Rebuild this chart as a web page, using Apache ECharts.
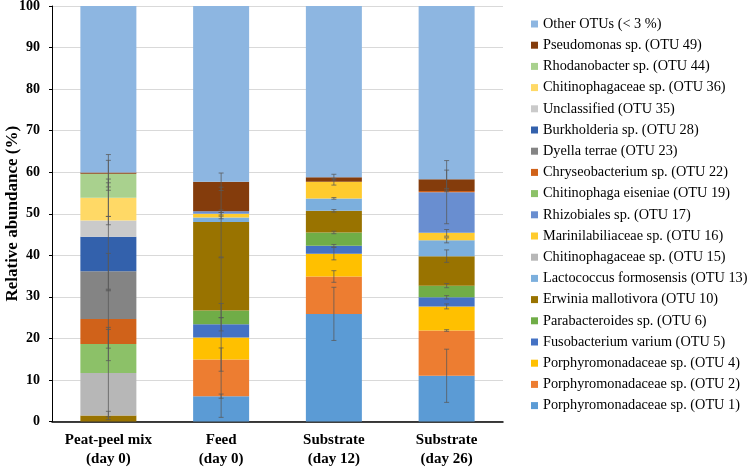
<!DOCTYPE html>
<html>
<head>
<meta charset="utf-8">
<script src="https://cdn.jsdelivr.net/npm/echarts@6/dist/echarts.min.js"></script>
<style>html,body{margin:0;padding:0;background:#fff;}#chart{width:750px;height:468px;}</style>
</head>
<body>
<div id="chart"></div>
<script>
// Categories
const categories = ['Peat-peel mix\n(day 0)', 'Feed\n(day 0)', 'Substrate\n(day 12)', 'Substrate\n(day 26)'];
const yTicks = [0, 10, 20, 30, 40, 50, 60, 70, 80, 90, 100];

// Series names (stack order bottom -> top)
const seriesNames = [
  'Porphyromonadaceae sp. (OTU 1)',
  'Porphyromonadaceae sp. (OTU 2)',
  'Porphyromonadaceae sp. (OTU 4)',
  'Fusobacterium varium (OTU 5)',
  'Parabacteroides sp. (OTU 6)',
  'Erwinia mallotivora (OTU 10)',
  'Lactococcus formosensis (OTU 13)',
  'Chitinophagaceae sp. (OTU 15)',
  'Marinilabiliaceae sp. (OTU 16)',
  'Rhizobiales sp. (OTU 17)',
  'Chitinophaga eiseniae (OTU 19)',
  'Chryseobacterium sp. (OTU 22)',
  'Dyella terrae (OTU 23)',
  'Burkholderia sp. (OTU 28)',
  'Unclassified (OTU 35)',
  'Chitinophagaceae sp. (OTU 36)',
  'Rhodanobacter sp. (OTU 44)',
  'Pseudomonas sp. (OTU 49)',
  'Other OTUs (< 3 %)'
];

// Mean relative abundance (%) per category
const otu1  = [0,     6.1, 25.9, 11.0];
const otu2  = [0,     8.8,  9.0, 10.9];
const otu4  = [0,     5.3,  5.5,  5.8];
const otu5  = [0,     3.2,  1.9,  2.2];
const otu6  = [0,     3.3,  3.2,  2.8];
const otu10 = [1.45, 21.3,  5.2,  7.1];
const otu13 = [0,     1.1,  3.0,  3.8];
const otu15 = [10.2,  0,    0,    0];
const otu16 = [0,     0.9,  4.0,  1.8];
const otu17 = [0,     0.6,  0,    9.8];
const otu19 = [7.0,   0,    0,    0];
const otu22 = [6.0,   0,    0,    0.3];
const otu23 = [11.5,  0,    0,    0];
const otu28 = [8.3,   0,    0,    0];
const otu35 = [3.9,   0,    0,    0];
const otu36 = [5.5,   0,    0,    0];
const otu44 = [5.8,   0,    0,    0];
const otu49 = [0.3,   7.1,  1.1,  2.8];
const other = [40.05, 42.3, 41.2, 41.7];

// Standard deviations (error bars)
const sd1  = [0,    0.5, 6.4, 6.4];
const sd2  = [0,    2.8, 1.4, 0.2];
const sd4  = [0,   19.2, 1.5, 0.6];
const sd5  = [0,    1.6, 0.3, 0.4];
const sd6  = [0,    1.7, 0.3, 0.5];
const sd10 = [1.0,  8.4, 0.3, 1.5];
const sd13 = [0,    0.3, 0.2, 0.6];
const sd15 = [10.5, 0,   0,   0];
const sd16 = [0,    0.3, 0.8, 0.8];
const sd17 = [0,    0.3, 0,   7.6];
const sd19 = [4.0,  0,   0,   0];
const sd22 = [7.0,  0,   0,   0.2];
const sd23 = [4.3,  0,   0,   0];
const sd28 = [13.0, 0,   0,   0];
const sd35 = [1.0,  0,   0,   0];
const sd36 = [4.5,  0,   0,   0];
const sd44 = [3.2,  0,   0,   0];
const sd49 = [4.3,  2.1, 0.7, 2.2];
const sdOther = [0, 0, 0, 0];

const colors = [
  '#5B9BD5', '#ED7D31', '#FFC000', '#4472C4', '#70AD47', '#997300',
  '#7CAFDD', '#B7B7B7', '#FFCB2E', '#698ED0', '#8CC168', '#D0621A',
  '#848484', '#3361AC', '#CACACA', '#FFD966', '#A9D18E', '#843C0C', '#8DB6E1'
];

const values = [otu1, otu2, otu4, otu5, otu6, otu10, otu13, otu15, otu16, otu17, otu19, otu22, otu23, otu28, otu35, otu36, otu44, otu49, other];
const sds = [sd1, sd2, sd4, sd5, sd6, sd10, sd13, sd15, sd16, sd17, sd19, sd22, sd23, sd28, sd35, sd36, sd44, sd49, sdOther];

// Build error bar data at cumulative top of each segment
const errData = [];
for (let c = 0; c < categories.length; c++) {
  let cum = 0;
  for (let s = 0; s < values.length; s++) {
    cum += values[s][c];
    if (values[s][c] > 0 && sds[s][c] > 0) errData.push([c, cum, sds[s][c]]);
  }
}

const FONT = 'Liberation Serif';

const series = seriesNames.map((name, i) => ({
  name: name,
  type: 'bar',
  stack: 'total',
  barWidth: 56,
  itemStyle: { color: colors[i] },
  emphasis: { disabled: true },
  data: values[i]
}));

series.push({
  type: 'custom',
  name: 'err',
  z: 10,
  silent: true,
  renderItem: function (params, api) {
    const c = api.value(0), top = api.value(1), sd = api.value(2);
    const hi = api.coord([c, top + sd]);
    const lo = api.coord([c, Math.max(0, top - sd)]);
    const w = 2.5;
    const style = { stroke: '#5a5a5a', lineWidth: 0.9, opacity: 0.85 };
    return {
      type: 'group',
      children: [
        { type: 'line', shape: { x1: hi[0], y1: hi[1], x2: lo[0], y2: lo[1] }, style: style },
        { type: 'line', shape: { x1: hi[0] - w, y1: hi[1], x2: hi[0] + w, y2: hi[1] }, style: style },
        { type: 'line', shape: { x1: lo[0] - w, y1: lo[1], x2: lo[0] + w, y2: lo[1] }, style: style }
      ]
    };
  },
  encode: { x: 0, y: 1 },
  data: errData
});

const chart = echarts.init(document.getElementById('chart'), null, { renderer: 'canvas' });
chart.setOption({
  animation: false,
  backgroundColor: '#ffffff',
  grid: { left: 52, right: 247, top: 6, bottom: 46.5, containLabel: false, outerBoundsMode: 'none' },
  legend: {
    orient: 'vertical',
    left: 526,
    top: 12,
    itemWidth: 7,
    itemHeight: 7,
    itemGap: 7.2,
    icon: 'rect',
    data: seriesNames.slice().reverse(),
    textStyle: { fontFamily: FONT, fontSize: 14.3, color: '#000', lineHeight: 14 },
    selectedMode: false
  },
  xAxis: {
    type: 'category',
    data: categories,
    axisLine: { lineStyle: { color: '#000', width: 1.5 } },
    axisTick: { show: false },
    axisLabel: {
      fontFamily: FONT, fontSize: 15, fontWeight: 'bold', color: '#000',
      lineHeight: 19, margin: 9, interval: 0
    }
  },
  yAxis: {
    type: 'value',
    min: 0,
    max: 100,
    interval: 10,
    name: 'Relative abundance (%)',
    nameLocation: 'middle',
    nameGap: 31,
    nameMoveOverlap: false,
    nameTextStyle: { fontFamily: FONT, fontSize: 17, fontWeight: 'bold', color: '#000' },
    axisLine: { show: true, lineStyle: { color: '#000', width: 1 } },
    axisTick: { show: true, length: 3, lineStyle: { color: '#000' } },
    axisLabel: { fontFamily: FONT, fontSize: 14, fontWeight: 'bold', color: '#000', margin: 12 },
    splitLine: { lineStyle: { color: '#D9D9D9', width: 1 } }
  },
  series: series
});
</script>
</body>
</html>
